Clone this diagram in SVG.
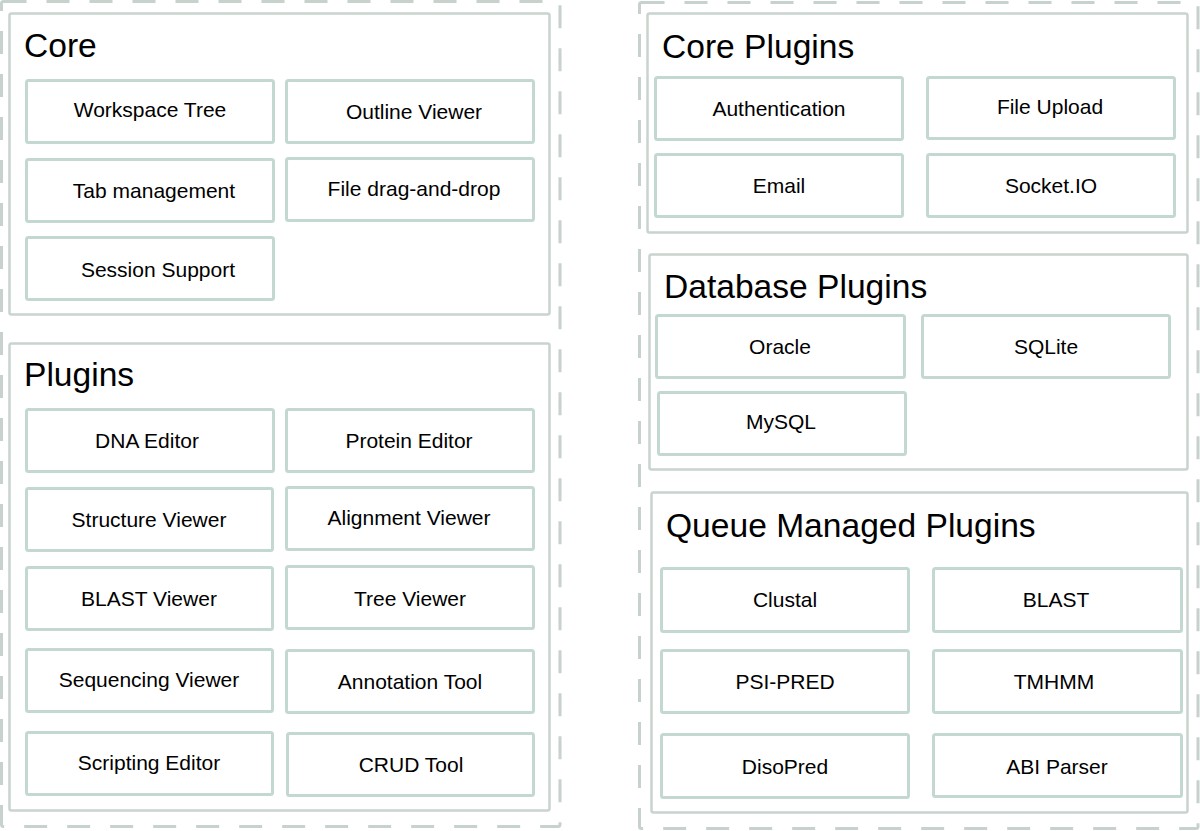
<svg xmlns="http://www.w3.org/2000/svg" width="1200" height="831" viewBox="0 0 1200 831">
<style>
.dash{fill:none;stroke:#c8d2cc;stroke-width:3;stroke-dasharray:23 20}
.cont{fill:#fff;stroke:#c8d4cd;stroke-width:2.5}
.box{fill:#fff;stroke:#c3d8d1;stroke-width:3}
.title{font-family:"Liberation Sans",Arial,sans-serif;font-size:33.6px;fill:#000}
.lbl{font-family:"Liberation Sans",Arial,sans-serif;font-size:21px;fill:#000;text-anchor:middle}
</style>
<rect width="1200" height="831" fill="#fff"/>
<g id="frames">
<rect class="dash" x="1.5" y="1.5" width="558.5" height="825" rx="2"/>
<rect class="dash" x="639.5" y="2.5" width="558.5" height="826" rx="2"/>
</g>
<g id="core">
<rect class="cont" x="9.5" y="13.5" width="540" height="301" rx="2"/>
<text class="title" x="24" y="57">Core</text>
</g>
<g id="workspace-tree"><rect class="box" x="26.5" y="80.5" width="247" height="62" rx="2"/><text class="lbl" x="150" y="117">Workspace Tree</text></g>
<g id="outline-viewer"><rect class="box" x="286.5" y="80.5" width="247" height="62" rx="2"/><text class="lbl" x="414" y="119">Outline Viewer</text></g>
<g id="tab-management"><rect class="box" x="26.5" y="159.5" width="247" height="62" rx="2"/><text class="lbl" x="154" y="198">Tab management</text></g>
<g id="file-dnd"><rect class="box" x="286.5" y="158.5" width="247" height="62" rx="2"/><text class="lbl" x="414" y="196">File drag-and-drop</text></g>
<g id="session-support"><rect class="box" x="26.5" y="237.5" width="247" height="62" rx="2"/><text class="lbl" x="158" y="277">Session Support</text></g>

<g id="plugins">
<rect class="cont" x="9.5" y="343.5" width="540" height="467" rx="2"/>
<text class="title" x="24" y="386">Plugins</text>
</g>
<g id="dna-editor"><rect class="box" x="26.5" y="409.5" width="247" height="62" rx="2"/><text class="lbl" x="147" y="448">DNA Editor</text></g>
<g id="protein-editor"><rect class="box" x="286.5" y="409.5" width="247" height="62" rx="2"/><text class="lbl" x="409" y="448">Protein Editor</text></g>
<g id="structure-viewer"><rect class="box" x="26.5" y="488.5" width="246" height="62" rx="2"/><text class="lbl" x="149" y="527">Structure Viewer</text></g>
<g id="alignment-viewer"><rect class="box" x="286.5" y="487.5" width="247" height="62" rx="2"/><text class="lbl" x="409" y="525">Alignment Viewer</text></g>
<g id="blast-viewer"><rect class="box" x="26.5" y="567.5" width="246" height="62" rx="2"/><text class="lbl" x="149" y="606">BLAST Viewer</text></g>
<g id="tree-viewer"><rect class="box" x="286.5" y="566.5" width="247" height="62" rx="2"/><text class="lbl" x="410" y="606">Tree Viewer</text></g>
<g id="sequencing-viewer"><rect class="box" x="26.5" y="649.5" width="246" height="62" rx="2"/><text class="lbl" x="149" y="687">Sequencing Viewer</text></g>
<g id="annotation-tool"><rect class="box" x="286.5" y="650.5" width="247" height="62" rx="2"/><text class="lbl" x="410" y="689">Annotation Tool</text></g>
<g id="scripting-editor"><rect class="box" x="26.5" y="732.5" width="246" height="62" rx="2"/><text class="lbl" x="149" y="770">Scripting Editor</text></g>
<g id="crud-tool"><rect class="box" x="287.5" y="733.5" width="246" height="62" rx="2"/><text class="lbl" x="411" y="772">CRUD Tool</text></g>

<g id="core-plugins">
<rect class="cont" x="647.5" y="13.5" width="540" height="219" rx="2"/>
<text class="title" x="662" y="58">Core Plugins</text>
</g>
<g id="authentication"><rect class="box" x="655.5" y="77.5" width="247" height="62" rx="2"/><text class="lbl" x="779" y="116">Authentication</text></g>
<g id="file-upload"><rect class="box" x="927.5" y="77.5" width="247" height="61" rx="2"/><text class="lbl" x="1050" y="114">File Upload</text></g>
<g id="email"><rect class="box" x="655.5" y="154.5" width="247" height="62" rx="2"/><text class="lbl" x="779" y="193">Email</text></g>
<g id="socketio"><rect class="box" x="927.5" y="154.5" width="247" height="62" rx="2"/><text class="lbl" x="1051" y="193">Socket.IO</text></g>

<g id="database-plugins">
<rect class="cont" x="649.5" y="254.5" width="538" height="215" rx="2"/>
<text class="title" x="664" y="298">Database Plugins</text>
</g>
<g id="oracle"><rect class="box" x="656.5" y="315.5" width="248" height="62" rx="2"/><text class="lbl" x="780" y="354">Oracle</text></g>
<g id="sqlite"><rect class="box" x="922.5" y="315.5" width="247" height="62" rx="2"/><text class="lbl" x="1046" y="354">SQLite</text></g>
<g id="mysql"><rect class="box" x="658.5" y="392.5" width="247" height="62" rx="2"/><text class="lbl" x="781" y="429">MySQL</text></g>

<g id="queue-plugins">
<rect class="cont" x="651.5" y="492.5" width="536" height="320" rx="2"/>
<text class="title" x="666" y="537">Queue Managed Plugins</text>
</g>
<g id="clustal"><rect class="box" x="661.5" y="568.5" width="247" height="63" rx="2"/><text class="lbl" x="785" y="607">Clustal</text></g>
<g id="blast"><rect class="box" x="933.5" y="568.5" width="248" height="63" rx="2"/><text class="lbl" x="1056" y="607">BLAST</text></g>
<g id="psipred"><rect class="box" x="661.5" y="650.5" width="247" height="62" rx="2"/><text class="lbl" x="785" y="689">PSI-PRED</text></g>
<g id="tmhmm"><rect class="box" x="933.5" y="650.5" width="248" height="62" rx="2"/><text class="lbl" x="1054" y="689">TMHMM</text></g>
<g id="disopred"><rect class="box" x="661.5" y="734.5" width="247" height="63" rx="2"/><text class="lbl" x="785" y="774">DisoPred</text></g>
<g id="abi-parser"><rect class="box" x="933.5" y="734.5" width="248" height="62" rx="2"/><text class="lbl" x="1057" y="774">ABI Parser</text></g>
<g id="connectors"></g>
</svg>
